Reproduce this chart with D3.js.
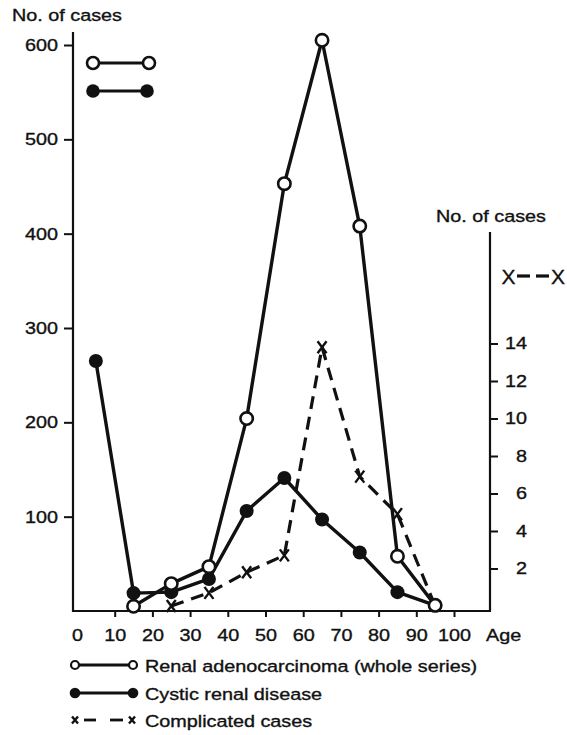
<!DOCTYPE html>
<html>
<head>
<meta charset="utf-8">
<script src="https://cdn.jsdelivr.net/npm/d3@7"></script>
<style>
  html, body { margin: 0; padding: 0; background: #fff; }
  svg { display: block; }
  text { font-family: "Liberation Sans", Arial, sans-serif; font-size: 17px; fill: #111; stroke: #111; stroke-width: 0.35px; }
</style>
</head>
<body>
<svg id="chart" width="567" height="735"></svg>
<script>
// ---- data ----
const ages = [5, 15, 25, 35, 45, 55, 65, 75, 85, 95];
const renalCases = [null, 5, 29, 47, 204, 453, 605, 408, 58, 6];
const cysticCases = [265, 19, 20, 34, 106, 141, 97, 62, 20, 6];
const compAges = [25, 35, 45, 55, 65, 75, 85, 95];
const complicatedCases = [0, 0.7, 1.8, 2.7, 13.8, 6.9, 4.9, 0];
const leftTicks = [100, 200, 300, 400, 500, 600];
const rightTicks = [2, 4, 6, 8, 10, 12, 14];
const ageTicks = [0, 10, 20, 30, 40, 50, 60, 70, 80, 90, 100];
const legendLabels = ["Renal adenocarcinoma (whole series)", "Cystic renal disease", "Complicated cases"];

const SX = 1.165;
const svg = d3.select("#chart");
const ink = "#111";
const FONT = "Liberation Sans, Arial, sans-serif";

const x = d3.scaleLinear().domain([0, 100]).range([77, 454]);
const yL = d3.scaleLinear().domain([0, 600]).range([611, 45]);
const yR = d3.scaleLinear().domain([0, 14]).range([606, 343.5]);

const axisX = 73, baseY = 611, rightX = 490;

function label(g, px, py, s, anchor, size) {
  const t = g.append("g").attr("transform", `translate(${px},${py}) scale(${SX},1)`)
    .append("text").attr("text-anchor", anchor || "start").text(s);
  if (size) t.style("font-size", size + "px");
  return t;
}
function styleTickText(sel) {
  sel.attr("fill", ink).attr("stroke", ink).attr("stroke-width", 0.35)
    .style("font-size", "17px").style("font-family", FONT);
}

// ---- axes ----
const gL = svg.append("g").attr("transform", `translate(${axisX},0)`)
  .call(d3.axisLeft(yL).tickValues(leftTicks).tickSize(9).tickFormat(d3.format("d")));
gL.select(".domain").remove();
gL.selectAll(".tick line").attr("stroke", ink).attr("stroke-width", 2);
styleTickText(gL.selectAll(".tick text").attr("x", -15 / SX).attr("transform", `scale(${SX},1)`));

const gB = svg.append("g").attr("transform", `translate(0,${baseY})`)
  .call(d3.axisBottom(x).tickValues(ageTicks).tickSize(6).tickFormat(d3.format("d")));
gB.select(".domain").remove();
gB.selectAll(".tick line").attr("stroke", ink).attr("stroke-width", 2)
  .filter(d => d === 0).remove();
styleTickText(gB.selectAll(".tick text").attr("y", 30).attr("dy", 0).attr("transform", `scale(${SX},1)`));

const gR = svg.append("g").attr("transform", `translate(${rightX},0)`)
  .call(d3.axisRight(yR).tickValues(rightTicks).tickSize(8).tickFormat(d3.format("d")));
gR.select(".domain").remove();
gR.selectAll(".tick line").attr("stroke", ink).attr("stroke-width", 2);
styleTickText(gR.selectAll(".tick text").attr("x", 37 / SX).attr("text-anchor", "end").attr("transform", `scale(${SX},1)`));

// axis lines
svg.append("line").attr("x1", axisX).attr("x2", axisX).attr("y1", 32).attr("y2", baseY + 1)
  .attr("stroke", ink).attr("stroke-width", 2.2);
svg.append("line").attr("x1", axisX).attr("x2", rightX + 1).attr("y1", baseY).attr("y2", baseY)
  .attr("stroke", ink).attr("stroke-width", 2.2);
svg.append("line").attr("x1", rightX).attr("x2", rightX).attr("y1", 232).attr("y2", baseY)
  .attr("stroke", ink).attr("stroke-width", 2.2);

// axis titles
label(svg, 12, 21, "No. of cases");
label(svg, 436, 222, "No. of cases");
label(svg, 486, 641, "Age");

// ---- series ----
const renalPts = ages.map((a, i) => ({ a, v: renalCases[i] })).filter(d => d.v != null);
const cysticPts = ages.map((a, i) => ({ a, v: cysticCases[i] }));
const compPts = compAges.map((a, i) => ({ a, v: complicatedCases[i] }));

const lineL = d3.line().x(d => x(d.a)).y(d => yL(d.v));
const lineR = d3.line().x(d => x(d.a)).y(d => yR(d.v));

svg.append("path").attr("d", lineR(compPts)).attr("fill", "none").attr("stroke", ink)
  .attr("stroke-width", 3.2).attr("stroke-dasharray", "13,8");
svg.append("path").attr("d", lineL(cysticPts)).attr("fill", "none").attr("stroke", ink)
  .attr("stroke-width", 3.4).attr("stroke-linejoin", "round");
svg.append("path").attr("d", lineL(renalPts)).attr("fill", "none").attr("stroke", ink)
  .attr("stroke-width", 3.4).attr("stroke-linejoin", "round");

function xMark(g, cx, cy, w, h, sw) {
  g.append("path").attr("d", `M${cx - w / 2},${cy - h / 2}L${cx + w / 2},${cy + h / 2}M${cx + w / 2},${cy - h / 2}L${cx - w / 2},${cy + h / 2}`)
    .attr("stroke", ink).attr("stroke-width", sw).attr("fill", "none");
}

svg.append("g").selectAll("circle").data(cysticPts).join("circle")
  .attr("cx", d => x(d.a)).attr("cy", d => yL(d.v)).attr("r", 7).attr("fill", ink);
svg.append("g").selectAll("circle").data(renalPts).join("circle")
  .attr("cx", d => x(d.a)).attr("cy", d => yL(d.v)).attr("r", 6.2)
  .attr("fill", "#fff").attr("stroke", ink).attr("stroke-width", 2.6);
const gX = svg.append("g");
compPts.forEach(d => { if (d.a !== 95) xMark(gX, x(d.a), yR(d.v), 9, 12, 2.4); });

// ---- top-left legend keys ----
svg.append("line").attr("x1", 93).attr("x2", 149).attr("y1", 63).attr("y2", 63).attr("stroke", ink).attr("stroke-width", 3.2);
svg.append("line").attr("x1", 93).attr("x2", 147).attr("y1", 91).attr("y2", 91).attr("stroke", ink).attr("stroke-width", 3.2);
[93, 149].forEach(cx => svg.append("circle").attr("cx", cx).attr("cy", 63).attr("r", 6)
  .attr("fill", "#fff").attr("stroke", ink).attr("stroke-width", 2.6));
[93, 147].forEach(cx => svg.append("circle").attr("cx", cx).attr("cy", 91).attr("r", 6.8).attr("fill", ink));

// ---- right legend key X--X ----
svg.append("text").attr("x", 508.5).attr("y", 283.5).attr("text-anchor", "middle").style("font-size", "21px").text("X");
svg.append("text").attr("x", 558).attr("y", 283.5).attr("text-anchor", "middle").style("font-size", "21px").text("X");
svg.append("line").attr("x1", 517).attr("x2", 530).attr("y1", 276).attr("y2", 276).attr("stroke", ink).attr("stroke-width", 3.2);
svg.append("line").attr("x1", 536).attr("x2", 549).attr("y1", 276).attr("y2", 276).attr("stroke", ink).attr("stroke-width", 3.2);

// ---- bottom legend ----
const legRows = [665, 693, 720];
svg.append("line").attr("x1", 75).attr("x2", 133).attr("y1", legRows[0]).attr("y2", legRows[0]).attr("stroke", ink).attr("stroke-width", 2.8);
[75, 133].forEach(cx => svg.append("circle").attr("cx", cx).attr("cy", legRows[0]).attr("r", 4)
  .attr("fill", "#fff").attr("stroke", ink).attr("stroke-width", 2.2));
svg.append("line").attr("x1", 75).attr("x2", 133).attr("y1", legRows[1]).attr("y2", legRows[1]).attr("stroke", ink).attr("stroke-width", 2.8);
[75, 133].forEach(cx => svg.append("circle").attr("cx", cx).attr("cy", legRows[1]).attr("r", 5.3).attr("fill", ink));
xMark(svg, 75, legRows[2], 6, 7, 2.4);
xMark(svg, 132, legRows[2], 6, 7, 2.4);
svg.append("line").attr("x1", 84).attr("x2", 96).attr("y1", legRows[2]).attr("y2", legRows[2]).attr("stroke", ink).attr("stroke-width", 2.8);
svg.append("line").attr("x1", 110).attr("x2", 123).attr("y1", legRows[2]).attr("y2", legRows[2]).attr("stroke", ink).attr("stroke-width", 2.8);

legendLabels.forEach((s, i) => label(svg, 145, legRows[i] + 6.5, s));
</script>
</body>
</html>
